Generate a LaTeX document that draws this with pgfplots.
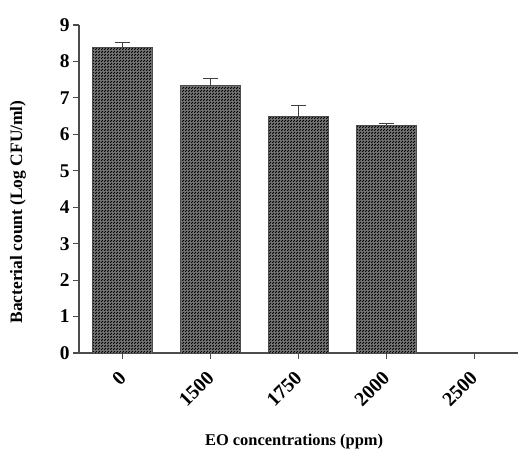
\documentclass[border=0pt]{standalone}
\usepackage{pgfplots}
\pgfplotsset{compat=1.18}
\usepackage{fontspec}
\setmainfont{Liberation Serif}
\usetikzlibrary{patterns}
\pgfdeclarepatternformonly{dhatch}{\pgfpointorigin}{\pgfqpoint{3.2bp}{3.2bp}}{\pgfqpoint{3.2bp}{3.2bp}}{%
  \pgfsetlinewidth{1.0bp}%
  \pgfpathmoveto{\pgfqpoint{0.4bp}{0.4bp}}%
  \pgfpathlineto{\pgfqpoint{2.4bp}{2.4bp}}%
  \pgfusepath{stroke}}
\begin{document}
\begin{tikzpicture}
\begin{axis}[
  at={(0,0)}, anchor=south west,
  scale only axis,
  width=439bp, height=328bp,
  xmin=-0.5, xmax=4.5, ymin=0, ymax=9,
  axis lines*=left,
  axis line style={line width=1.3pt, black!70},
  xtick={0,1,2,3,4},
  xticklabels={0,1500,1750,2000,2500},
  ytick={0,1,...,9},
  tick align=outside,
  major tick length=6pt,
  tick style={line width=1.1pt, black!70},
  x tick label style={xshift=-5bp, yshift=-9bp, rotate=45, anchor=north east, font=\bfseries\fontsize{20}{20}\selectfont, inner sep=1pt},
  y tick label style={font=\bfseries\fontsize{19.5}{19.5}\selectfont},
  /pgf/number format/assume math mode=true,
  xlabel={\bfseries EO concentrations (ppm)},
  ylabel={\bfseries Bacterial count (Log CFU/ml)},
  every axis x label/.style={at={(axis description cs:0.49,0)}, anchor=center, yshift=-89bp, font=\fontsize{16.5}{16.5}\selectfont},
  every axis y label/.style={at={(axis description cs:-0.139,0.43)}, rotate=90, anchor=center, font=\fontsize{17.5}{17.5}\selectfont},
  clip=false,
]
\addplot[ybar, bar width=60bp, draw=black!70, line width=0.9pt,
  fill=black!55, postaction={pattern=dhatch, pattern color=black},
  error bars/.cd, y dir=plus, y explicit,
  error bar style={line width=1.1pt, black!75},
  error mark options={rotate=90, mark size=7.5pt, line width=1.1pt, black!75}]
coordinates {
  (0,8.38) +- (0,0.14)
  (1,7.33) +- (0,0.20)
  (2,6.48) +- (0,0.30)
  (3,6.25) +- (0,0.05)
};
\end{axis}
\pgfresetboundingbox
\path (-79bp,-102bp) rectangle (439bp,353bp);
\end{tikzpicture}
\end{document}
